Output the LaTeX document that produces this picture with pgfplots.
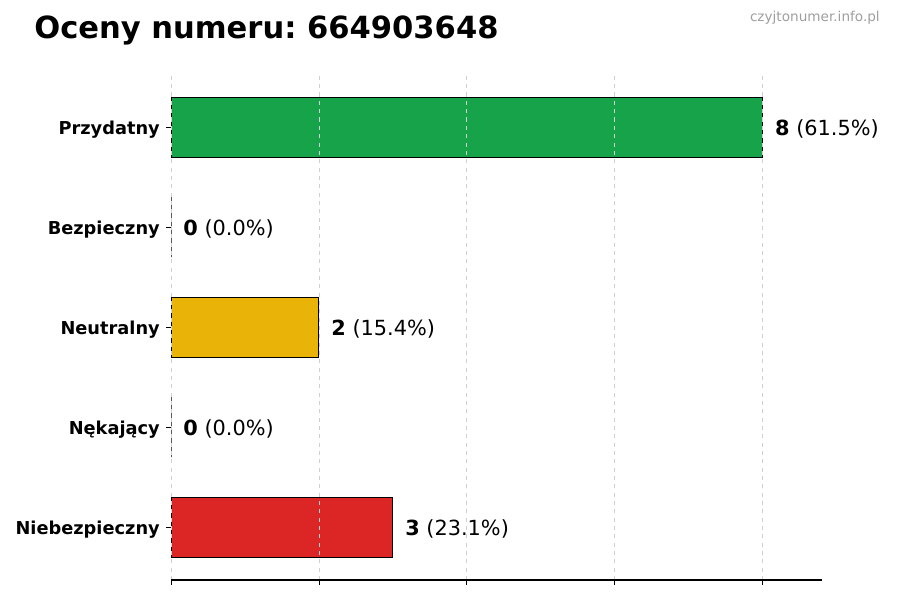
\documentclass[border=0pt]{standalone}
\usepackage{pgfplots}
\pgfplotsset{compat=1.18}
\usepackage{fontspec}
\setmainfont{DejaVu Sans}

\definecolor{cgreen}{HTML}{16A34A}
\definecolor{cyellow}{HTML}{EAB308}
\definecolor{cred}{HTML}{DC2626}
\definecolor{cgrid}{HTML}{D0D0D0}

\begin{document}
\frenchspacing
\begin{tikzpicture}[x=0.72pt,y=0.72pt]
  % page frame 900x600 px
  \useasboundingbox (0,0) rectangle (900,600);

  \node[anchor=base west, inner sep=0pt, font=\fontsize{22}{26}\selectfont\bfseries] at (34,561) {Oceny numeru: 664903648};
  \node[anchor=base east, inner sep=0pt, text=black!38, font=\fontsize{9.8}{12}\selectfont] at (880,578) {czyjtonumer.info.pl};

  \begin{axis}[
      at={(123.12pt,14.4pt)}, anchor=south west,
      scale only axis,
      width=468.72pt, height=362.88pt,
      xbar, bar width=0.6, bar shift=0pt,
      xmin=0, xmax=8.8,
      ymin=-0.53, ymax=4.51,
      axis x line*=bottom, axis y line*=left,
      y axis line style={draw=none},
      x axis line style={line width=0.8pt},
      xtick={0,2,4,6,8}, xticklabels={},
      ytick={0,1,2,3,4},
      yticklabels={Niebezpieczny,Nękający,Neutralny,Bezpieczny,Przydatny},
      tick align=outside, major tick length=3.6pt,
      tick style={black, line width=0.6pt},
      yticklabel style={font=\fontsize{12.8}{15}\selectfont\bfseries, inner sep=0pt, xshift=-4.3pt, yshift=-2.2pt},
      xmajorgrids, grid style={cgrid, dashed, line width=0.6pt},
      axis on top,
      point meta=explicit symbolic,
      nodes near coords={\textbf{\pgfmathprintnumber[assume math mode=true]{\pgfkeysvalueof{/data point/x}}} (\pgfplotspointmeta\%)},
      every node near coord/.append style={anchor=west, inner sep=0pt, xshift=8.6pt, yshift=-1.4pt,
        font=\fontsize{15}{18}\selectfont, text=black},
    ]
    \addplot[draw=black, line width=0.7pt, fill=cgreen] coordinates {(8,4) [61.5]};
    \addplot[draw=black, line width=0.7pt, fill=cyellow] coordinates {(2,2) [15.4]};
    \addplot[draw=black, line width=0.7pt, fill=cred] coordinates {(3,0) [23.1]};
    \addplot[draw=black, line width=0.7pt, fill=white] coordinates {(0,3) [0.0] (0,1) [0.0]};
  \end{axis}
\end{tikzpicture}
\end{document}
